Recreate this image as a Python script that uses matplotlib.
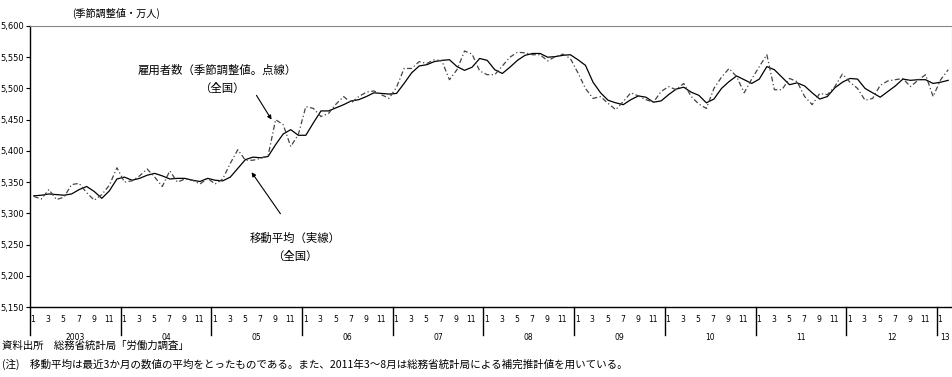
import numpy as np
import matplotlib.pyplot as plt
import matplotlib.transforms as mtransforms

plt.rcParams['font.family'] = ['Noto Sans CJK JP', 'DejaVu Sans']

# 雇用者数(季節調整値) 2003年1月～2013年2月 (万人)
koyousha = [
    5327, 5323, 5338, 5322, 5326, 5346, 5348, 5333, 5321, 5330, 5345, 5373,  # 2003
    5350, 5352, 5360, 5371, 5358, 5343, 5368, 5350, 5355, 5353, 5347, 5356,  # 2004
    5347, 5355, 5380, 5402, 5385, 5385, 5388, 5392, 5450, 5442, 5407, 5426,  # 2005
    5471, 5468, 5455, 5460, 5475, 5487, 5477, 5487, 5494, 5496, 5490, 5484,  # 2006
    5502, 5532, 5532, 5543, 5540, 5546, 5544, 5514, 5530, 5560, 5555, 5528,  # 2007
    5522, 5522, 5536, 5550, 5558, 5557, 5554, 5554, 5544, 5551, 5555, 5548,  # 2008
    5525, 5500, 5484, 5487, 5476, 5466, 5479, 5493, 5488, 5482, 5478, 5495,  # 2009
    5503, 5498, 5508, 5487, 5475, 5468, 5500, 5518, 5532, 5519, 5493, 5515,  # 2010
    5535, 5554, 5498, 5498, 5516, 5511, 5487, 5474, 5492, 5490, 5503, 5523,  # 2011
    5510, 5500, 5481, 5484, 5505, 5512, 5514, 5516, 5503, 5513, 5522, 5487,  # 2012
    5514, 5530,                                                              # 2013
]

# 移動平均(3か月)
idou_heikin = [
    5328, 5329, 5331, 5330, 5329, 5331, 5338, 5343, 5335, 5324, 5336, 5355,
    5358, 5353, 5356, 5361, 5364, 5360, 5355, 5356, 5356, 5353, 5351, 5356,
    5353, 5352, 5358, 5372, 5386, 5390, 5389, 5391, 5410, 5427, 5434, 5425,
    5425, 5445, 5464, 5464, 5469, 5474, 5480, 5482, 5487, 5493, 5492, 5491,
    5492, 5508, 5525, 5536, 5538, 5543, 5545, 5546, 5535, 5529, 5534, 5548,
    5545, 5530, 5524, 5534, 5545, 5553, 5556, 5556, 5550, 5551, 5553, 5554,
    5546, 5537, 5510, 5493, 5481, 5477, 5474, 5482, 5488, 5486, 5478, 5480,
    5490, 5499, 5502, 5494, 5489, 5477, 5483, 5500, 5511, 5520, 5514, 5508,
    5515, 5535, 5530, 5518, 5506, 5509, 5504, 5493, 5483, 5487, 5501, 5510,
    5516, 5515, 5500, 5493, 5486, 5495, 5504, 5515, 5513, 5514, 5514, 5508,
    5510, 5513,
]

nen_label = ["2003", "04", "05", "06", "07", "08", "09", "10", "11", "12", "13"]
tsuki_label = ["1", "3", "5", "7", "9", "11"]

x = np.arange(len(koyousha))

fig = plt.figure(figsize=(9.53, 3.77), dpi=100)
ax = fig.add_axes([30/953, 70/377, 922/953, 281/377])

ax.plot(x, idou_heikin, color='black', lw=0.9)
ax.plot(x, koyousha, color='#444444', lw=0.9, linestyle=(0, (4, 2, 1, 2)))

ax.set_xlim(-0.5, 121.5)
ax.set_ylim(5150, 5600)
ax.set_yticks(np.arange(5150, 5601, 50))
ax.set_yticklabels([f"{v:,}" for v in range(5150, 5601, 50)], fontsize=6, family='DejaVu Sans')
ax.tick_params(axis='y', length=3, width=0.8, pad=1)
ax.set_xticks([])

ax.spines['top'].set_color('#888888')
ax.spines['right'].set_color('#888888')
ax.spines['left'].set_linewidth(1)
ax.spines['bottom'].set_linewidth(1)

# 月・年の目盛り
trans = mtransforms.blended_transform_factory(ax.transData, ax.transAxes)
for k, nen in enumerate(nen_label):
    start = k * 12
    ax.plot([start - 0.5, start - 0.5], [0, -0.098], color='black', lw=1,
            transform=trans, clip_on=False)
    for j, t in enumerate(tsuki_label):
        m = start + j * 2
        if m > 121:
            break
        ax.text(m - 0.1, -0.046, t, transform=trans, ha='center', va='center',
                fontsize=5.5, family='DejaVu Sans')
    if k < 10:
        cx = start + 5.5
    else:
        cx = start + 0.6
    ax.text(cx, -0.107, nen, transform=trans, ha='center', va='center',
            fontsize=5.5, family='DejaVu Sans')

# 注記
fig.text(72/953, 1 - 13/377, "(季節調整値・万人)", fontsize=7.3, va='center')

ax.annotate("", xy=(273, 377 - 122), xycoords='figure pixels',
            xytext=(255, 377 - 93), textcoords='figure pixels',
            arrowprops=dict(arrowstyle='-|>', color='black', lw=0.8,
                            mutation_scale=6))
fig.text(138/953, 1 - 70/377, "雇用者数（季節調整値。点線）", fontsize=8.2, va='center')
fig.text(222/953, 1 - 88/377, "（全国）", fontsize=8.2, va='center', ha='center')

ax.annotate("", xy=(250, 377 - 170), xycoords='figure pixels',
            xytext=(282, 377 - 216), textcoords='figure pixels',
            arrowprops=dict(arrowstyle='-|>', color='black', lw=0.8,
                            mutation_scale=6))
fig.text(250/953, 1 - 238/377, "移動平均（実線）", fontsize=8.2, va='center')
fig.text(295/953, 1 - 256/377, "（全国）", fontsize=8.2, va='center', ha='center')

fig.text(2/953, 1 - 346/377, "資料出所　総務省統計局「労働力調査」", fontsize=7.5, va='center')
fig.text(2/953, 1 - 364/377,
         "(注)　移動平均は最近3か月の数値の平均をとったものである。また、2011年3～8月は総務省統計局による補完推計値を用いている。",
         fontsize=7.6, va='center')

fig.savefig("out.png", dpi=100)
